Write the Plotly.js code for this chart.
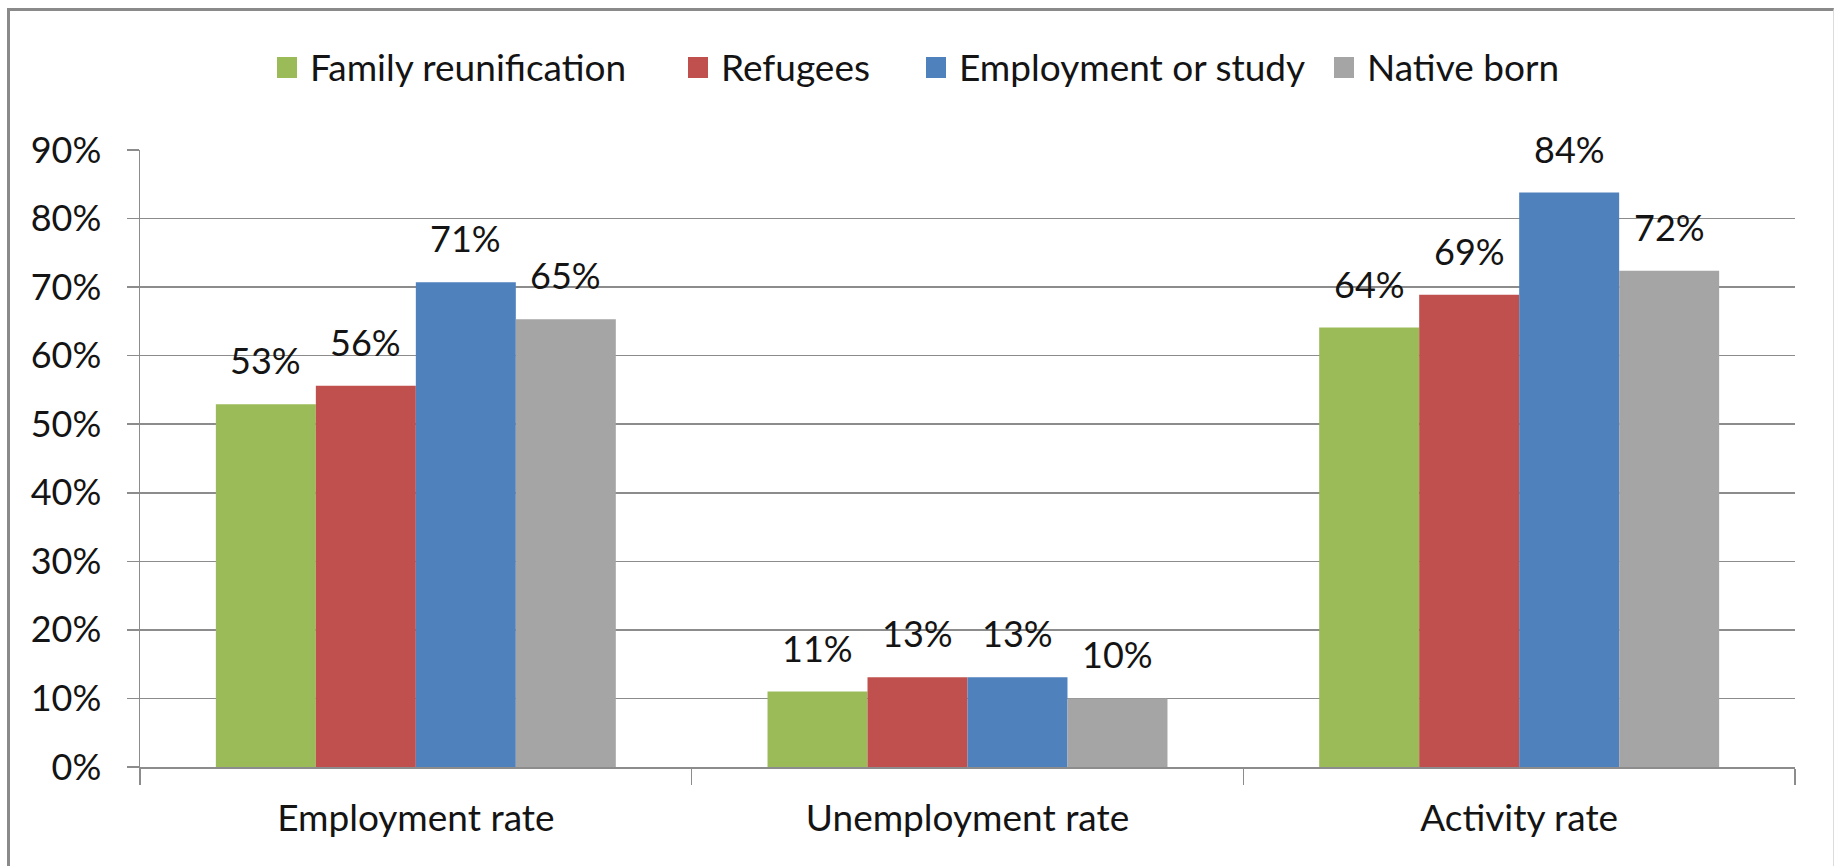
<!DOCTYPE html>
<html>
<head>
<meta charset="utf-8">
<script src="https://cdn.plot.ly/plotly-3.0.1.min.js"></script>
<style>
  html, body { margin: 0; padding: 0; background: #ffffff; }
  #wrap { position: relative; width: 1835px; height: 866px; overflow: hidden; background: #fff; }
  #chart { position: absolute; left: 0; top: 0; width: 1835px; height: 866px; }
  #frame { position: absolute; left: 7px; top: 8px; width: 1823px; height: 920px;
           border-left: 3px solid #8a8a8a; border-top: 3px solid #8a8a8a; border-right: 1px solid #dcdcdc;
           pointer-events: none; }
</style>
</head>
<body>
<div id="wrap">
  <div id="chart"></div>
  <div id="frame"></div>
</div>
<script>
// ---- data ----
const categories = ['Employment rate', 'Unemployment rate', 'Activity rate'];
const seriesNames = ['Family reunification', 'Refugees', 'Employment or study', 'Native born'];
const familyReunification = [0.529, 0.110, 0.641];
const refugees = [0.556, 0.131, 0.689];
const employmentOrStudy = [0.707, 0.131, 0.838];
const nativeBorn = [0.653, 0.100, 0.724];
const seriesColors = ['#9BBB59', '#C0504D', '#4F81BD', '#A5A5A5'];
const yTickVals = [0, 0.1, 0.2, 0.3, 0.4, 0.5, 0.6, 0.7, 0.8, 0.9];

const seriesValues = [familyReunification, refugees, employmentOrStudy, nativeBorn];

// ---- style ----
const FONT = 'Lato, "Open Sans", "DejaVu Sans", sans-serif';
const TXT = '#141414';
const GRID = '#8c8c8c';
const FS_NUM = 36;
const FS_WORD = 37;
const W = 1835, H = 866;
const M = {l: 140, r: 40, t: 150, b: 99, pad: 0};
const BARGAP = 0.275;

const traces = seriesValues.map((vals, s) => ({
  type: 'bar',
  name: seriesNames[s],
  x: categories,
  y: vals,
  marker: {color: seriesColors[s], line: {width: 0}},
  hoverinfo: 'x+y+name',
  showlegend: false
}));

// data labels above bars, positioned via the category axis
const nS = seriesValues.length;
const barW = (1 - BARGAP) / nS;
const annotations = [];
seriesValues.forEach((vals, s) => {
  vals.forEach((v, i) => {
    annotations.push({
      xref: 'x', yref: 'y',
      x: i + (s - (nS - 1) / 2) * barW,
      y: v,
      text: Math.round(v * 100) + '%',
      showarrow: false,
      xanchor: 'center', yanchor: 'bottom',
      yshift: 20,
      font: {family: FONT, size: FS_NUM, color: TXT}
    });
  });
});

// custom legend (pixel layout converted to paper coords)
const plotW = W - M.l - M.r, plotH = H - M.t - M.b;
const px2x = p => (p - M.l) / plotW;
const px2y = p => (H - M.b - p) / plotH;
const legendTextLeft = [308, 719, 957, 1365];
const shapes = [];
seriesNames.forEach((name, s) => {
  const tl = legendTextLeft[s];
  shapes.push({
    type: 'rect', xref: 'paper', yref: 'paper',
    x0: px2x(tl - 31), x1: px2x(tl - 11),
    y0: px2y(78), y1: px2y(57),
    fillcolor: seriesColors[s], line: {width: 0}
  });
  annotations.push({
    xref: 'paper', yref: 'paper',
    x: px2x(tl), y: px2y(66),
    xanchor: 'left', yanchor: 'middle',
    text: name, showarrow: false,
    font: {family: FONT, size: FS_WORD, color: TXT}
  });
});

const layout = {
  width: W, height: H,
  margin: M,
  paper_bgcolor: 'rgba(0,0,0,0)',
  plot_bgcolor: '#ffffff',
  barmode: 'group',
  bargap: BARGAP,
  bargroupgap: 0,
  showlegend: false,
  font: {family: FONT, size: FS_NUM, color: TXT},
  xaxis: {
    type: 'category',
    showline: true, linecolor: GRID, linewidth: 1.5,
    ticks: 'outside', tickson: 'boundaries', ticklen: 16, tickwidth: 1.5, tickcolor: GRID,
    showgrid: false, zeroline: false,
    ticklabelstandoff: 18,
    tickfont: {family: FONT, size: FS_WORD, color: TXT}
  },
  yaxis: {
    range: [0, 0.9],
    tickvals: yTickVals,
    tickformat: '.0%',
    showline: true, linecolor: GRID, linewidth: 1.5,
    ticks: 'outside', ticklen: 12, tickwidth: 1.5, tickcolor: GRID,
    showgrid: true, gridcolor: GRID, gridwidth: 1.5,
    zeroline: false,
    ticklabelstandoff: 18,
    tickfont: {family: FONT, size: FS_NUM, color: TXT}
  },
  annotations: annotations,
  shapes: shapes
};

Plotly.newPlot('chart', traces, layout, {displayModeBar: false, staticPlot: true});
</script>
</body>
</html>
